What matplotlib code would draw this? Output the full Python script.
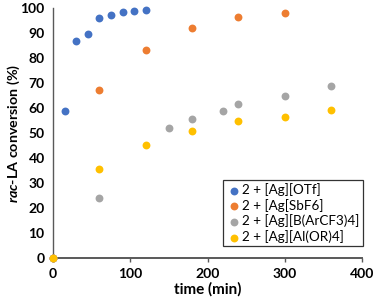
import matplotlib.pyplot as plt

plt.rcParams['font.family'] = ['Lato', 'DejaVu Sans']
plt.rcParams['mathtext.fontset'] = 'custom'
plt.rcParams['mathtext.it'] = 'Lato:italic:bold'
plt.rcParams['mathtext.rm'] = 'Lato:bold'

# data
t_otf = [0, 15, 30, 45, 60, 75, 90, 105, 120]
c_otf = [0, 58.8, 86.9, 89.4, 95.8, 97.3, 98.3, 98.9, 99.2]
t_sbf6 = [0, 60, 120, 180, 240, 300]
c_sbf6 = [0, 67.1, 83.1, 91.8, 96.4, 98.0]
t_barf = [0, 60, 150, 180, 220, 240, 300, 360]
c_barf = [0, 24.0, 51.9, 55.5, 58.9, 61.6, 64.7, 68.6]
t_alor = [0, 60, 120, 180, 240, 300, 360]
c_alor = [0, 35.4, 45.2, 50.6, 54.7, 56.4, 59.2]

labels = ['2 + [Ag][OTf]', '2 + [Ag[SbF6]', '2 + [Ag][B(ArCF3)4]', '2 + [Ag][Al(OR)4]']
colors = ['#4472C4', '#ED7D31', '#A5A5A5', '#FFC000']

fig = plt.figure(figsize=(3.76, 3.05), dpi=100)
ax = fig.add_axes([0.141, 0.154, 0.822, 0.820])

series = [(t_otf, c_otf), (t_sbf6, c_sbf6), (t_barf, c_barf), (t_alor, c_alor)]
for (t, c), lab, col in zip(series, labels, colors):
    ax.scatter(t, c, s=32, color=col, label=lab, clip_on=False, zorder=3, linewidths=0)

ax.set_xlim(0, 400)
ax.set_ylim(0, 100)
ax.set_xticks([0, 100, 200, 300, 400])
ax.set_yticks(range(0, 101, 10))
for s in ['top', 'right']:
    ax.spines[s].set_visible(False)
ax.spines['bottom'].set_color('#595959')
ax.spines['bottom'].set_linewidth(1.4)
ax.spines['left'].set_color('#595959')
ax.spines['left'].set_linewidth(1.0)
ax.tick_params(axis='x', direction='out', length=3, width=1, color='#595959', labelsize=10, pad=4)
ax.tick_params(axis='y', length=0, labelsize=10, pad=6)
for lab in ax.get_xticklabels() + ax.get_yticklabels():
    lab.set_fontweight('bold')

ax.set_xlabel('time (min)', fontsize=11, fontweight='bold', labelpad=2)
ax.set_ylabel(r'$\mathit{rac}$-LA conversion (%)', fontsize=10.3, fontweight='bold')
ax.yaxis.set_label_coords(-0.1, 0.5)

leg = ax.legend(loc='lower right', bbox_to_anchor=(1.015, 0.03), fontsize=9.7, frameon=True,
                fancybox=False, edgecolor='black', handletextpad=0.05, borderpad=0.25,
                labelspacing=0.2, handlelength=1.1, borderaxespad=0.3)
leg.get_frame().set_linewidth(0.9)

fig.savefig('out.png', dpi=100)
